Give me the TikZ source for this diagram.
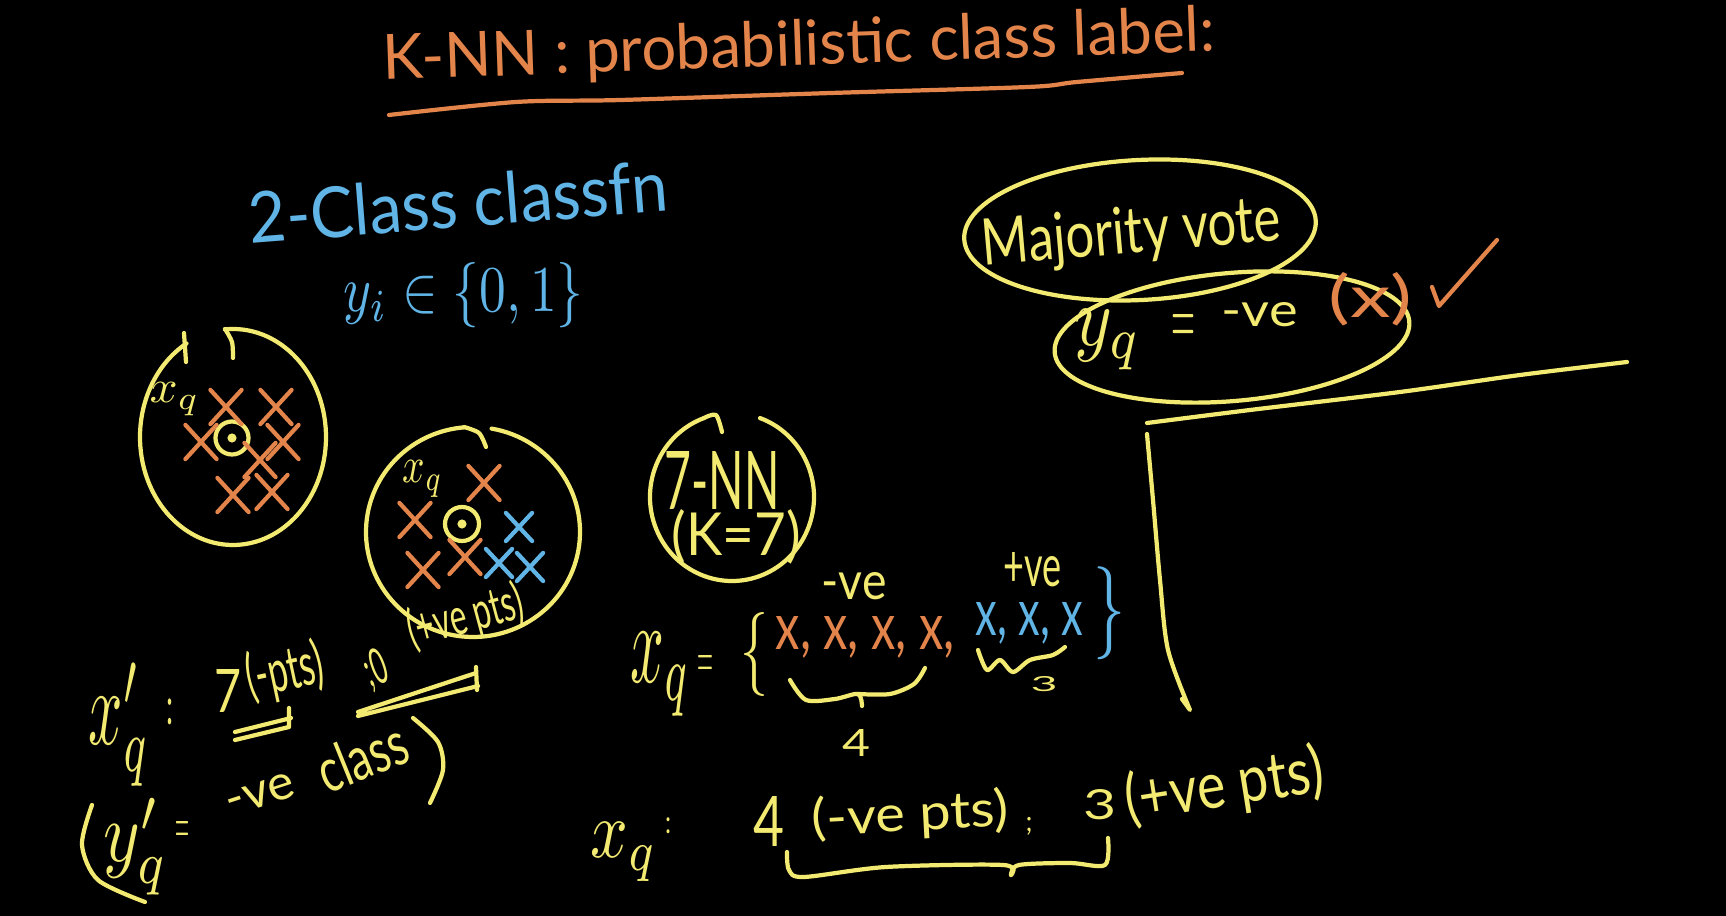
\documentclass[tikz,border=0pt]{standalone}
\usepackage{graphicx}
\usepackage{fontspec}
\setmainfont{Lato}
\usetikzlibrary{shapes.misc}

\definecolor{jaunecraie}{HTML}{F3EA72}
\definecolor{orangecraie}{HTML}{E3844B}
\definecolor{bleucraie}{HTML}{60B4E6}

\newlength{\pxu}
\setlength{\pxu}{0.01cm}
% texte manuscrit : largeur, hauteur (en pixels)
\newcommand{\hw}[3]{\resizebox{#1\pxu}{#2\pxu}{#3}}
\newcommand{\hwt}[3]{\resizebox*{#1\pxu}{#2\pxu}{#3}}

\tikzset{
  jtrait/.style={draw=jaunecraie, line width=1.2pt, line cap=round, line join=round},
  otrait/.style={draw=orangecraie, line width=1.2pt, line cap=round, line join=round},
  ecrit/.style={inner sep=0pt, anchor=base west},
  croixo/.style={cross out, draw=orangecraie, line width=1.2pt, line cap=round, inner sep=0pt, minimum width=0.27cm, minimum height=0.3cm},
  croixb/.style={cross out, draw=bleucraie, line width=1.2pt, line cap=round, inner sep=0pt, minimum width=0.22cm, minimum height=0.24cm},
}

\begin{document}
\begin{tikzpicture}[x=0.01cm, y=-0.01cm]
  % Fond noir du tableau
  \fill[black] (0,0) rectangle (1726,916);
  \useasboundingbox (0,0) rectangle (1726,916);

  % Titre souligne
  \node[ecrit, text=orangecraie, rotate=2] (titre) at (383,80) {\hw{832}{46}{K-NN : probabilistic class label:}};
  \draw[otrait] plot[smooth] coordinates {(389,115) (516,102) (621,100) (831,93) (1028,87) (1077,82) (1182,73)};

  % Classification binaire
  \node[ecrit, text=bleucraie, rotate=4.5] (binaire) at (250,244) {\hw{420}{52}{2-Class classfn}};
  \node[ecrit, text=bleucraie] (etiquettes) at (343,312) {\hw{240}{49}{$y_i\in\{0,1\}$}};

  % Premier voisinage : que des points negatifs
  \draw[jtrait] (233,437) ++(-95:93 and 108) arc[start angle=-95, end angle=240, x radius=93, y radius=108];
  \draw[jtrait] plot[smooth] coordinates {(225,329) (232,342) (233,358)};
  \draw[jtrait] (184,333) -- (186,362);
  \node[ecrit, text=jaunecraie] (xq1) at (149,403) {\hw{50}{20}{$x_q$}};
  \node[jtrait, circle, minimum size=0.33cm, inner sep=0pt] (q1) at (232,438) {};
  \fill[jaunecraie] (q1.center) circle (1.3pt);
  \foreach \px/\py [count=\i] in {226/407, 276/407, 201/442, 260/460, 283/442, 233/495, 272/492}
    \node[croixo] (a\i) at (\px,\py) {};

  % Second voisinage : points melanges
  \draw[jtrait] (473,532) ++(-80:107 and 105) arc[start angle=-80, end angle=265, x radius=107, y radius=105];
  \draw[jtrait] plot[smooth] coordinates {(464,427) (479,433) (486,447)};
  \node[ecrit, text=jaunecraie] (xq2) at (402,483) {\hw{40}{22}{$x_q$}};
  \node[jtrait, circle, minimum size=0.34cm, inner sep=0pt] (q2) at (462,524) {};
  \fill[jaunecraie] (q2.center) circle (1.3pt);
  \foreach \px/\py [count=\i] in {484/483, 415/520, 465/557, 423/570}
    \node[croixo] (b\i) at (\px,\py) {};
  \foreach \px/\py [count=\i] in {519/527, 499/563, 530/567}
    \node[croixb] (c\i) at (\px,\py) {};

  % Bilan du second voisinage
  \node[ecrit, text=jaunecraie] (xqp) at (88,745) {\hw{61}{82}{$x_q'$}};
  \node[inner sep=0pt, text=jaunecraie] (dp1) at (170,712) {\hwt{7}{26}{:}};
  \node[ecrit, text=jaunecraie] (sept) at (214,713) {\hw{27}{43}{7}};
  \node[ecrit, text=jaunecraie, rotate=12] (neg1) at (250,698) {\hw{78}{46}{(-pts)}};
  \node[ecrit, text=jaunecraie, rotate=20] (zero) at (370,688) {\hw{22}{36}{;0}};
  \node[ecrit, text=jaunecraie, rotate=15] (pos1) at (412,648) {\hw{118}{40}{(+ve pts)}};
  \draw[jtrait] (235,732) -- (291,718) (235,740) -- (289,727) (289,708) -- (289,727);
  \draw[jtrait] (358,712) -- (476,673) (358,716) -- (478,686) (476,667) -- (477,690);

  % Conclusion : classe negative
  \draw[jtrait] plot[smooth] coordinates {(92,805) (82,845) (98,880) (145,902)};
  \node[ecrit, text=jaunecraie] (yqp) at (103,862) {\hw{65}{64}{$y_q'$}};
  \node[inner sep=0pt, text=jaunecraie] (eg1) at (182,833) {\hwt{14}{22}{$=$}};
  \node[ecrit, text=jaunecraie, rotate=18] (neg2) at (230,817) {\hw{70}{25}{-ve}};
  \node[ecrit, text=jaunecraie, rotate=22] (classe) at (327,795) {\hw{92}{45}{class}};
  \draw[jtrait] plot[smooth] coordinates {(413,718) (438,742) (443,770) (430,803)};

  % Les 7 plus proches voisins
  \draw[jtrait] (732,497) ++(-70:82 and 84) arc[start angle=-70, end angle=250, x radius=82, y radius=84];
  \draw[jtrait] plot[smooth] coordinates {(704,418) (716,415) (722,432)};
  \node[ecrit, text=jaunecraie] (knn) at (664,510) {\hw{115}{58}{7-NN}};
  \node[ecrit, text=jaunecraie] (kval) at (671,556) {\hw{129}{46}{(K=7)}};

  \node[ecrit, text=jaunecraie] (xq3) at (630,683) {\hw{60}{50}{$x_q$}};
  \node[inner sep=0pt, text=jaunecraie] (eg2) at (705,667) {\hwt{16}{22}{$=$}};
  \node[inner sep=0pt, text=jaunecraie] (accg) at (754,655) {\hwt{28}{84}{$\{$}};
  \node[ecrit, text=orangecraie] (negs) at (775,650) {\hw{179}{33}{x, x, x, x,}};
  \node[ecrit, text=bleucraie] (poss) at (975,636) {\hw{107}{33}{x, x, x}};
  \node[inner sep=0pt, text=bleucraie] (accd) at (1109,613) {\hwt{32}{93}{$\}$}};
  \node[ecrit, text=jaunecraie] (lneg) at (821,600) {\hw{65}{27}{-ve}};
  \node[ecrit, text=jaunecraie] (lpos) at (1003,587) {\hw{58}{34}{+ve}};
  \draw[jtrait] plot[smooth] coordinates {(790,680) (806,700) (835,699) (858,694) (862,706)};
  \draw[jtrait] plot[smooth] coordinates {(858,694) (890,694) (914,684) (925,668)};
  \node[ecrit, text=jaunecraie] (quatre) at (842,757) {\hw{28}{27}{4}};
  \draw[jtrait] plot[smooth] coordinates {(978,650) (987,670) (1000,660) (1013,672) (1030,660) (1053,655) (1065,647)};
  \node[ecrit, text=jaunecraie] (trois) at (1030,692) {\hw{27}{15}{3}};

  % Decompte final
  \node[ecrit, text=jaunecraie] (xq4) at (590,858) {\hw{67}{35}{$x_q$}};
  \node[inner sep=0pt, text=jaunecraie] (dp2) at (668,826) {\hwt{6}{16}{:}};
  \node[ecrit, text=jaunecraie] (n4) at (753,847) {\hw{31}{50}{4}};
  \node[ecrit, text=jaunecraie, rotate=3] (nneg) at (812,836) {\hw{197}{39}{(-ve pts)}};
  \node[inner sep=0pt, text=jaunecraie] (pv) at (1029,826) {\hwt{7}{18}{;}};
  \node[ecrit, text=jaunecraie] (n3) at (1083,820) {\hw{33}{30}{3}};
  \node[ecrit, text=jaunecraie, rotate=9] (npos) at (1128,822) {\hw{200}{50}{(+ve pts)}};
  \draw[jtrait] plot[smooth] coordinates {(787,852) (789,870) (804,877) (886,867) (1003,865) (1011,875)};
  \draw[jtrait] plot[smooth] coordinates {(1011,875) (1019,865) (1070,863) (1105,865) (1108,838)};

  % Vote majoritaire
  \draw[jtrait, rotate around={3:(1140,230)}] (1140,230) ellipse [x radius=176, y radius=70];
  \node[ecrit, text=jaunecraie, rotate=5] (majorite) at (983,266) {\hw{300}{47}{Majority vote}};
  \draw[jtrait, rotate around={5:(1232,337)}] (1232,337) ellipse [x radius=178, y radius=64];
  \node[ecrit, text=jaunecraie] (yq) at (1074,346) {\hw{67}{36}{$y_q$}};
  \node[inner sep=0pt, text=jaunecraie] (eg3) at (1183,330) {\hwt{24}{30}{$=$}};
  \node[ecrit, text=jaunecraie] (vote) at (1221,327) {\hw{76}{24}{-ve}};
  \node[ecrit, text=orangecraie] (croixlbl) at (1328,318) {\hw{84}{45}{(x)}};
  \draw[otrait] (1432,287) -- (1439,306) -- (1497,240);
  \draw[jtrait] plot[smooth] coordinates {(1147,423) (1250,410) (1400,392) (1520,375) (1627,362)};
  \draw[jtrait] plot[smooth] coordinates {(1147,434) (1153,500) (1160,580) (1168,650) (1190,710)} -- (1182,699);
\end{tikzpicture}
\end{document}
